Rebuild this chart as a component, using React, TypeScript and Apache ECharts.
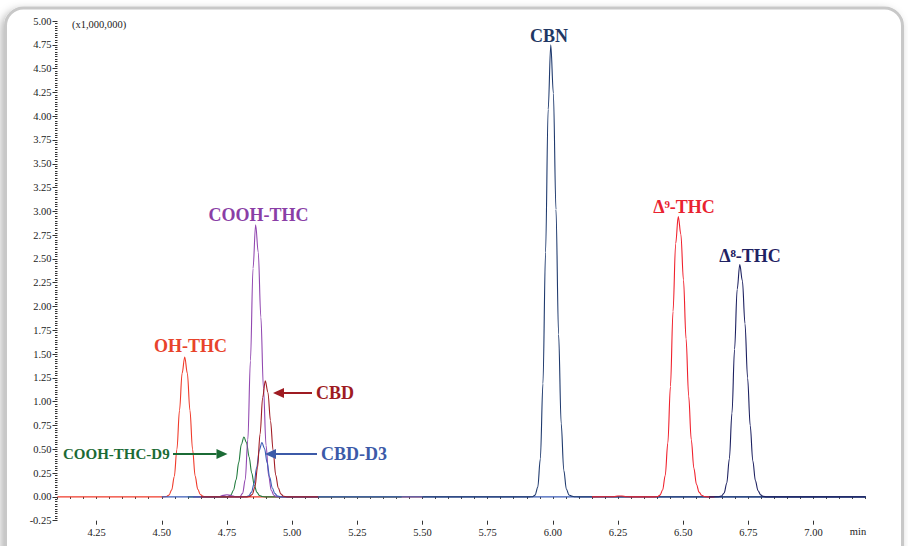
import React, { useEffect, useRef } from "react";
import * as echarts from "echarts";

// ---- data (retention time in min, intensity in x1,000,000) ----
const yTickLabels = [-0.25, 0, 0.25, 0.5, 0.75, 1, 1.25, 1.5, 1.75, 2, 2.25, 2.5, 2.75, 3, 3.25, 3.5, 3.75, 4, 4.25, 4.5, 4.75, 5];
const xMajorTicks = [4.25, 4.5, 4.75, 5.0, 5.25, 5.5, 5.75, 6.0, 6.25, 6.5, 6.75, 7.0];

const ohThc = [[4.10, 0], [4.30, 0], [4.50, 0], [4.518, 0.004], [4.528, 0.02], [4.538, 0.074], [4.548, 0.215], [4.558, 0.50], [4.568, 0.91], [4.578, 1.30], [4.588, 1.47], [4.598, 1.30], [4.608, 0.91], [4.618, 0.50], [4.628, 0.22], [4.638, 0.08], [4.648, 0.025], [4.658, 0.007], [4.67, 0], [5.00, 0], [5.50, 0]];
const coohThcD9 = [[4.60, 0], [4.745, 0], [4.755, 0.004], [4.765, 0.02], [4.775, 0.07], [4.785, 0.18], [4.795, 0.36], [4.805, 0.55], [4.815, 0.63], [4.825, 0.57], [4.835, 0.42], [4.845, 0.25], [4.855, 0.12], [4.865, 0.048], [4.875, 0.015], [4.885, 0.004], [4.90, 0], [5.42, 0]];
const coohThc = [[4.62, 0], [4.71, 0], [4.72, 0.004], [4.735, 0.016], [4.75, 0.022], [4.765, 0.015], [4.78, 0.004], [4.79, 0.001], [4.80, 0.005], [4.81, 0.037], [4.82, 0.18], [4.83, 0.60], [4.84, 1.43], [4.85, 2.40], [4.86, 2.86], [4.87, 2.57], [4.88, 1.89], [4.89, 1.14], [4.90, 0.54], [4.91, 0.22], [4.92, 0.07], [4.93, 0.017], [4.94, 0.003], [4.95, 0], [5.10, 0]];
const cbdD3 = [[4.50, 0], [4.81, 0], [4.824, 0.002], [4.834, 0.012], [4.844, 0.05], [4.854, 0.14], [4.864, 0.31], [4.874, 0.49], [4.884, 0.57], [4.894, 0.51], [4.904, 0.36], [4.914, 0.205], [4.924, 0.093], [4.934, 0.034], [4.944, 0.01], [4.954, 0.002], [4.97, 0], [6.00, 0], [7.20, 0]];
const cbd = [[4.65, 0], [4.825, 0], [4.837, 0.005], [4.847, 0.026], [4.857, 0.10], [4.867, 0.305], [4.877, 0.66], [4.887, 1.045], [4.897, 1.22], [4.907, 1.10], [4.917, 0.80], [4.927, 0.49], [4.937, 0.23], [4.947, 0.093], [4.957, 0.03], [4.967, 0.007], [4.98, 0], [5.10, 0]];
const cbn = [[5.50, 0], [5.91, 0], [5.922, 0.002], [5.932, 0.019], [5.942, 0.10], [5.952, 0.40], [5.962, 1.19], [5.972, 2.57], [5.982, 4.07], [5.992, 4.75], [6.002, 4.24], [6.012, 3.02], [6.022, 1.71], [6.032, 0.77], [6.042, 0.28], [6.052, 0.08], [6.062, 0.02], [6.072, 0.008], [6.085, 0.002], [6.10, 0], [7.20, 0]];
const d9Thc = [[6.15, 0], [6.235, 0.002], [6.25, 0.010], [6.265, 0.010], [6.28, 0.002], [6.30, 0], [6.39, 0], [6.401, 0.004], [6.411, 0.019], [6.421, 0.072], [6.431, 0.225], [6.441, 0.565], [6.451, 1.16], [6.461, 1.95], [6.471, 2.66], [6.481, 2.945], [6.491, 2.76], [6.501, 2.28], [6.511, 1.66], [6.521, 1.06], [6.531, 0.60], [6.541, 0.30], [6.551, 0.13], [6.561, 0.05], [6.571, 0.017], [6.581, 0.005], [6.595, 0], [6.62, 0]];
const d8Thc = [[6.60, 0], [6.637, 0.002], [6.647, 0.01], [6.657, 0.041], [6.667, 0.144], [6.677, 0.40], [6.687, 0.88], [6.697, 1.55], [6.707, 2.18], [6.717, 2.44], [6.727, 2.27], [6.737, 1.82], [6.747, 1.25], [6.757, 0.75], [6.767, 0.38], [6.777, 0.17], [6.787, 0.065], [6.797, 0.021], [6.807, 0.006], [6.82, 0], [7.20, 0]];

const traces = [
  { name: "OH-THC", data: ohThc, color: "#f03a2a" },
  { name: "COOH-THC-D9", data: coohThcD9, color: "#1f7a3c" },
  { name: "COOH-THC", data: coohThc, color: "#9147b0" },
  { name: "CBD-D3", data: cbdD3, color: "#3b5cb6" },
  { name: "CBD", data: cbd, color: "#a11c25" },
  { name: "CBN", data: cbn, color: "#1f3a6e" },
  { name: "Δ⁹-THC", data: d9Thc, color: "#f0202c" },
  { name: "Δ⁸-THC", data: d8Thc, color: "#1c2060" },
];

const SERIF = "'Liberation Serif', 'DejaVu Serif', serif";

function label(text: string, x: number, y: number, color: string, size: number, align: string) {
  return {
    type: "text",
    x,
    y,
    z: 10,
    style: {
      text,
      fill: color,
      font: `bold ${size}px ${SERIF}`,
      textAlign: align,
      textVerticalAlign: "middle",
    },
  };
}

function arrow(x1: number, tip: number, y: number, color: string) {
  const dir = tip > x1 ? 1 : -1;
  const base = tip - dir * 11;
  return [
    { type: "line", z: 10, shape: { x1, y1: y, x2: base, y2: y }, style: { stroke: color, lineWidth: 2 } },
    { type: "polygon", z: 10, shape: { points: [[tip, y], [base, y - 5], [base, y + 5]] }, style: { fill: color } },
  ];
}

export default function App() {
  const ref = useRef<HTMLDivElement>(null);
  useEffect(() => {
    if (!ref.current) return;
    const chart = echarts.init(ref.current, null, { renderer: "svg" });
    const axisFont = { fontFamily: SERIF, fontSize: 10.5, color: "#222" };
    chart.setOption({
      animation: false,
      backgroundColor: "#ffffff",
      grid: { left: 57.5, right: 42.3, top: 21, bottom: 25.3, containLabel: false },
      xAxis: [
        {
          type: "value",
          min: 4.1,
          max: 7.2,
          interval: 0.05,
          position: "bottom",
          axisLine: { show: false },
          axisTick: { show: true, length: 2, lineStyle: { color: "#333", width: 1 } },
          axisLabel: { show: false },
          splitLine: { show: false },
        },
        {
          type: "value",
          min: 4.1,
          max: 7.2,
          position: "bottom",
          axisLine: { show: false },
          axisTick: { show: true, length: 4, customValues: xMajorTicks, lineStyle: { color: "#333", width: 1 } },
          axisLabel: {
            ...axisFont,
            margin: 6,
            customValues: xMajorTicks,
            formatter: (v: number) => v.toFixed(2),
          },
          splitLine: { show: false },
        },
      ],
      yAxis: {
        type: "value",
        min: yTickLabels[0],
        max: yTickLabels[yTickLabels.length - 1],
        interval: 0.25,
        axisLine: { show: false },
        axisTick: { show: true, length: 5, lineStyle: { color: "#333", width: 1 } },
        minorTick: { show: true, splitNumber: 10, length: 2.5, lineStyle: { color: "#333", width: 1 } },
        axisLabel: { ...axisFont, margin: 6, formatter: (v: number) => v.toFixed(2) },
        splitLine: { show: false },
      },
      series: traces.map((t) => ({
        name: t.name,
        type: "line",
        xAxisIndex: 0,
        data: t.data,
        showSymbol: false,
        smooth: 0.35,
        smoothMonotone: "x",
        lineStyle: { color: t.color, width: 1.1 },
        itemStyle: { color: t.color },
        silent: true,
      })),
      graphic: [
        {
          type: "rect",
          z: -1,
          silent: true,
          shape: { x: 5.5, y: 8, width: 897, height: 570, r: 18 },
          style: {
            fill: "#ffffff",
            stroke: "#c8c8c8",
            lineWidth: 3,
            shadowBlur: 8,
            shadowColor: "rgba(0,0,0,0.28)",
            shadowOffsetX: -3,
            shadowOffsetY: 3,
          },
        },
        { type: "text", x: 72, y: 24, z: 10, style: { text: "(x1,000,000)", fill: "#222", font: `10.5px ${SERIF}`, textVerticalAlign: "middle" } },
        { type: "text", x: 858, y: 531.5, z: 10, style: { text: "min", fill: "#222", font: `10.5px ${SERIF}`, textAlign: "center", textVerticalAlign: "middle" } },
        label("CBN", 549, 36, "#1f3864", 18, "center"),
        label("Δ⁹-THC", 684, 207, "#e92230", 18, "center"),
        label("Δ⁸-THC", 750, 256, "#1f2263", 18, "center"),
        label("COOH-THC", 258.5, 215, "#8a3ea6", 18, "center"),
        label("OH-THC", 190.5, 346, "#e8432b", 18, "center"),
        label("CBD", 316, 393, "#9e1b22", 18, "left"),
        label("CBD-D3", 321, 454, "#3c5aa8", 18, "left"),
        label("COOH-THC-D9", 63, 453.5, "#1b6b35", 15, "left"),
        ...arrow(312, 273, 393, "#9e1b22"),
        ...arrow(317, 265, 454, "#3c5aa8"),
        ...arrow(173, 227.5, 454, "#1b6b35"),
      ],
    });
    return () => chart.dispose();
  }, []);
  return <div ref={ref} style={{ position: "absolute", left: 0, top: 0, width: 908, height: 546 }} />;
}
